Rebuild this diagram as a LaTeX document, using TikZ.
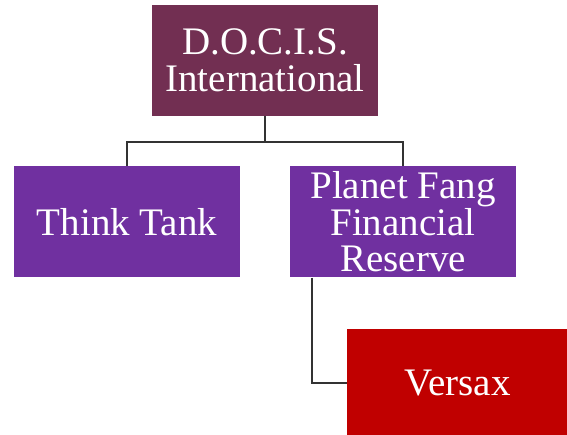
\documentclass[tikz,border=0pt]{standalone}
\usepackage{fontspec}
\setmainfont{Liberation Serif}
\definecolor{topc}{HTML}{722F52}
\definecolor{purp}{HTML}{7030A0}
\definecolor{redc}{HTML}{C00000}
\begin{document}
\begin{tikzpicture}[x=1pt,y=-1pt,
  box/.style={draw=none, minimum width=226pt, minimum height=111pt, inner sep=0pt,
    text=white, align=center, font=\fontsize{39}{36.5}\selectfont},
  conn/.style={draw=black!80, line width=1.2pt}]
\useasboundingbox (0,0) rectangle (567,435);
\node[box, fill=topc] (top) at (265,60.5) {D.O.C.I.S.\\International};
\node[box, fill=purp] (think) at (127,222) {Think Tank};
\node[box, fill=purp] (planet) at (403,222) {Planet Fang\\Financial\\Reserve};
\node[box, fill=redc, minimum width=221pt, minimum height=108pt] (versax) at (457.5,383) {Versax};
\coordinate (mid) at (265,142);
\draw[conn] (top.south) -- (mid);
\draw[conn] (think.north) |- (mid) -| (planet.north);
\draw[conn] ([xshift=-91pt]planet.south) |- (versax.west);
\end{tikzpicture}
\end{document}
